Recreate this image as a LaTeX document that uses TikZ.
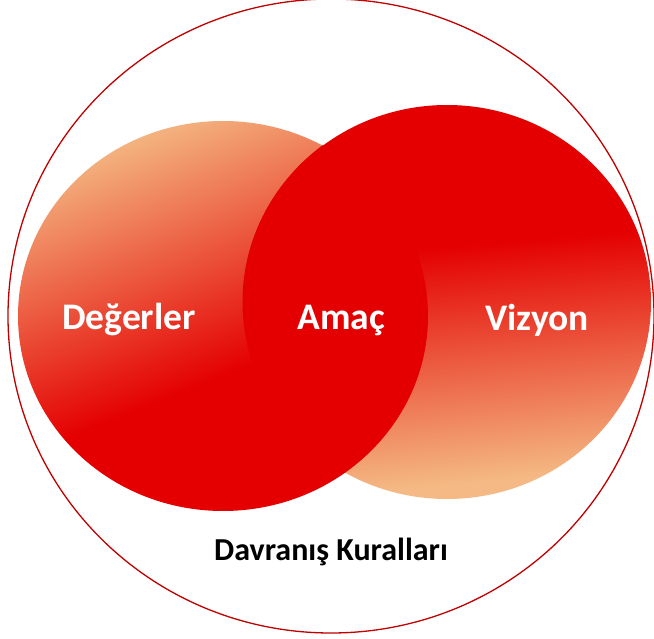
\documentclass[tikz,border=0pt]{standalone}
\usepackage{fontspec}
\setmainfont{Carlito}
\definecolor{redzero}{RGB}{228,0,0}
\definecolor{peach}{RGB}{244,185,132}
\definecolor{ringred}{RGB}{192,0,0}
\pgfdeclareverticalshading{leftsh}{100bp}{color(0bp)=(redzero); color(43bp)=(redzero); color(76bp)=(peach); color(100bp)=(peach)}
\pgfdeclareverticalshading{rightsh}{100bp}{color(0bp)=(peach); color(27bp)=(peach); color(57bp)=(redzero); color(100bp)=(redzero)}
\tikzset{
  lbl/.style={text=white, font=\bfseries\fontsize{37.5}{42}\selectfont, inner sep=0pt},
  outer/.style={draw=ringred, line width=1.3pt},
}
\begin{document}
\begin{tikzpicture}[x=1pt,y=-1pt]
\useasboundingbox (0,0) rectangle (654,639);
\fill[white] (0,0) rectangle (654,639);
% outer ring
\draw[outer] (331,316) ellipse [x radius=323, y radius=317];
% left circle
\shade[shading=leftsh, shading angle=22] (223,316) ellipse [x radius=205, y radius=195];
% right circle
\shade[shading=rightsh, shading angle=5] (447,302) ellipse [x radius=204, y radius=197];
% intersection
\begin{scope}
  \clip (223,316) ellipse [x radius=205, y radius=195];
  \filldraw[fill=redzero, draw=redzero, line width=1pt] (447,302) ellipse [x radius=204, y radius=197];
\end{scope}
\node[lbl] (deg) at (129,320) {Değerler};
\node[lbl] (amac) at (341,320) {Amaç};
\node[lbl] (viz) at (537,320) {Vizyon};
\node[font=\bfseries\fontsize{32}{36}\selectfont, inner sep=0pt] (dk) at (331,552) {Davranış Kuralları};
\end{tikzpicture}
\end{document}
